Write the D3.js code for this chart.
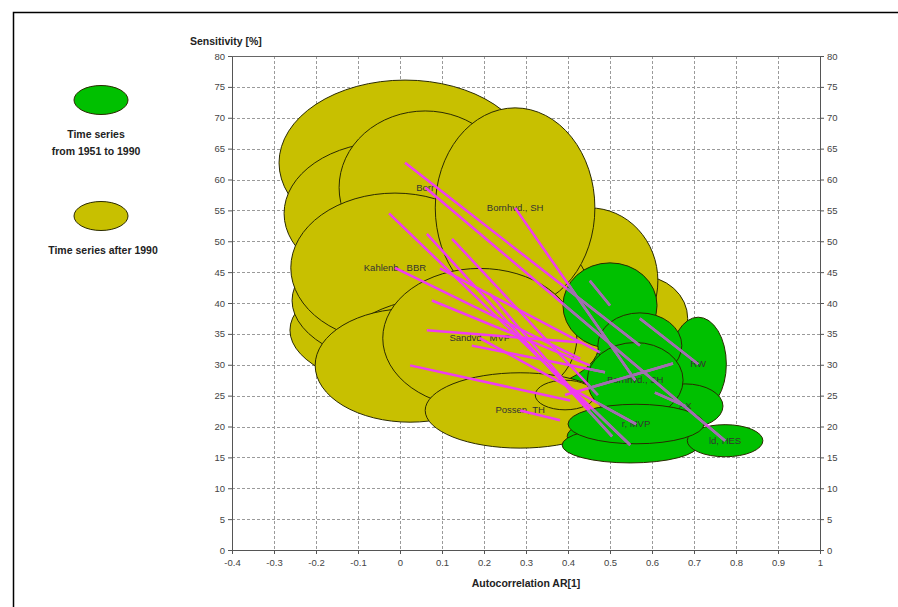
<!DOCTYPE html>
<html>
<head>
<meta charset="utf-8">
<script src="https://cdn.jsdelivr.net/npm/d3@7"></script>
<style>
  body { margin: 0; background: #fff; }
  text { font-family: Arial, "Liberation Sans", sans-serif; }
</style>
</head>
<body>
<div id="chart"></div>
<script>
// values, one entry per station, in drawing order
var labelsAfter  = ['', '', '', '', '', '', '', 'Borr', '', '', '', '', 'Kahlenb., BBR', 'Bornhvd., SH', '', '', 'Sandvd., MVP', 'Possen, TH', ''];
var arAfter      = [0.571, 0.607, 0.452, 0.064, 0.124, 0.012, -0.026, 0.060, 0.064, 0.076, 0.095, 0.214, -0.012, 0.274, 0.171, 0.024, 0.190, 0.286, 0.393];
var sensAfter    = [37.5, 25.5, 43.6, 51.2, 50.4, 62.7, 54.5, 58.7, 35.6, 40.4, 45.6, 41.5, 45.7, 55.4, 33.1, 29.9, 34.3, 22.6, 25.1];
var arAfterW     = [0.114, 0.148, 0.162, 0.286, 0.262, 0.300, 0.250, 0.205, 0.326, 0.333, 0.238, 0.238, 0.248, 0.190, 0.302, 0.226, 0.231, 0.226, 0.071];
var sensAfterH   = [6.9, 3.9, 11.8, 12.1, 11.3, 13.4, 11.6, 12.4, 10.0, 11.3, 10.5, 11.3, 12.1, 16.2, 8.4, 9.2, 11.3, 6.1, 2.4];

var labelsBefore = ['RW', 'AX', '', '', '', '', '', 'ld, HES', '', '', '', '', '', 'Bornhvd., SH', '', '', 'r, MVP', '', ''];
var arBefore     = [0.710, 0.679, 0.500, 0.505, 0.471, 0.571, 0.548, 0.774, 0.433, 0.452, 0.476, 0.452, 0.429, 0.560, 0.488, 0.405, 0.562, 0.381, 0.650];
var sensBefore   = [30.1, 23.3, 39.6, 18.4, 25.1, 33.1, 17.0, 17.7, 33.6, 29.9, 32.0, 22.6, 31.0, 27.5, 28.8, 24.2, 20.4, 21.0, 30.2];
var arBeforeW    = [0.067, 0.090, 0.112, 0.107, 0.083, 0.100, 0.162, 0.090, 0.083, 0.083, 0.083, 0.083, 0.083, 0.114, 0.083, 0.083, 0.162, 0.071, 0.083];
var sensBeforeH  = [7.6, 3.6, 6.9, 2.7, 3.2, 5.3, 2.9, 2.6, 4.0, 4.0, 4.0, 3.2, 4.0, 6.1, 4.0, 3.2, 3.2, 1.9, 4.0];
// green bubbles that sit under the yellow ones in the picture
var beforeHidden = [false, false, false, false, true, false, false, false, true, true, true, true, true, false, true, true, false, true, true];

var xTicks = [-0.4, -0.3, -0.2, -0.1, 0, 0.1, 0.2, 0.3, 0.4, 0.5, 0.6, 0.7, 0.8, 0.9, 1];
var yTicks = [0, 5, 10, 15, 20, 25, 30, 35, 40, 45, 50, 55, 60, 65, 70, 75, 80];
var legendTexts = [['Time series', 'from 1951 to 1990'], ['Time series after 1990']];

var width = 898, height = 607;
var plotL = 232, plotR = 820, plotT = 56, plotB = 550;
var green = '#00c000', yellow = '#c8c000';

var svg = d3.select('#chart').append('svg')
  .attr('width', width)
  .attr('height', height);

svg.append('rect')
  .attr('x', 13.5).attr('y', 12.5)
  .attr('width', 900).attr('height', 620)
  .attr('fill', 'none').attr('stroke', '#000').attr('stroke-width', 1.5);

var x = d3.scaleLinear().domain([-0.4, 1]).range([plotL, plotR]);
var y = d3.scaleLinear().domain([0, 80]).range([plotB, plotT]);

// grid
svg.append('g').selectAll('line').data(xTicks.slice(1, -1))
  .enter().append('line')
    .attr('x1', function(d) { return x(d) + 0.5; })
    .attr('x2', function(d) { return x(d) + 0.5; })
    .attr('y1', plotT).attr('y2', plotB)
    .attr('stroke', '#9a9a9a').attr('stroke-dasharray', '3,2');
svg.append('g').selectAll('line').data(yTicks.slice(1, -1))
  .enter().append('line')
    .attr('y1', function(d) { return Math.round(y(d)) + 0.5; })
    .attr('y2', function(d) { return Math.round(y(d)) + 0.5; })
    .attr('x1', plotL).attr('x2', plotR)
    .attr('stroke', '#9a9a9a').attr('stroke-dasharray', '3,2');

function fmt(d) { return String(+d.toFixed(1)); }

var yLeft = svg.append('g').attr('transform', 'translate(' + plotL + ',0)')
  .call(d3.axisLeft(y).tickValues(yTicks).tickSize(4).tickSizeOuter(0).tickFormat(fmt));
var yRight = svg.append('g').attr('transform', 'translate(' + plotR + ',0)')
  .call(d3.axisRight(y).tickValues(yTicks).tickSize(4).tickSizeOuter(0).tickFormat(fmt));
var xAxis = svg.append('g').attr('transform', 'translate(0,' + plotB + ')')
  .call(d3.axisBottom(x).tickValues(xTicks).tickSize(4).tickSizeOuter(0).tickFormat(fmt));
svg.append('line')
  .attr('x1', plotL).attr('x2', plotR).attr('y1', plotT + 0.5).attr('y2', plotT + 0.5)
  .attr('stroke', '#666');

[yLeft, yRight, xAxis].forEach(function(g) {
  g.selectAll('path, line').attr('stroke', '#555');
  g.selectAll('text').attr('fill', '#444').style('font-size', '9.5px').style('font-family', 'Arial, sans-serif');
});
xAxis.selectAll('text').attr('dy', '0.9em');

// bubbles
function ellipse(sel, ar, sens, w, h) {
  return sel
    .attr('cx', x(ar)).attr('cy', y(sens))
    .attr('rx', x(ar + w) - x(ar))
    .attr('ry', y(sens) - y(sens + h));
}
function drawBubbles(ar, sens, w, h, labels, fill, keep) {
  var g = svg.append('g');
  ar.forEach(function(v, i) {
    if (!keep(i)) return;
    var b = g.append('g');
    ellipse(b.append('ellipse'), v, sens[i], w[i], h[i])
      .attr('fill', fill).attr('stroke', '#2a2a00').attr('stroke-width', 1);
    if (labels[i]) {
      b.append('text')
        .attr('x', x(v)).attr('y', y(sens[i]) + 3)
        .attr('text-anchor', 'middle')
        .attr('fill', '#333').style('font-size', '9.5px')
        .text(labels[i]);
    }
  });
}
drawBubbles(arBefore, sensBefore, arBeforeW, sensBeforeH, labelsBefore, green, function(i) { return beforeHidden[i]; });
drawBubbles(arAfter, sensAfter, arAfterW, sensAfterH, labelsAfter, yellow, function() { return true; });
drawBubbles(arBefore, sensBefore, arBeforeW, sensBeforeH, labelsBefore, green, function(i) { return !beforeHidden[i]; });

// connecting lines, toned down where they run over green
var clip = svg.append('clipPath').attr('id', 'greenClip');
arBefore.forEach(function(v, i) {
  if (beforeHidden[i]) return;
  ellipse(clip.append('ellipse'), v, sensBefore[i], arBeforeW[i], sensBeforeH[i]);
});
function drawLinks(color, clipId) {
  var g = svg.append('g');
  if (clipId) g.attr('clip-path', 'url(#' + clipId + ')');
  g.selectAll('line').data(arAfter)
    .enter().append('line')
      .attr('x1', function(d) { return x(d); })
      .attr('y1', function(d, i) { return y(sensAfter[i]); })
      .attr('x2', function(d, i) { return x(arBefore[i]); })
      .attr('y2', function(d, i) { return y(sensBefore[i]); })
      .attr('stroke', color).attr('stroke-width', 2.5);
}
drawLinks('#f03cf0');
drawLinks('#a070b0', 'greenClip');

// axis titles
svg.append('text').attr('x', 190).attr('y', 45)
  .style('font-weight', 'bold').style('font-size', '10.5px').attr('fill', '#222')
  .text('Sensitivity [%]');
svg.append('text').attr('x', (plotL + plotR) / 2).attr('y', 587)
  .attr('text-anchor', 'middle')
  .style('font-weight', 'bold').style('font-size', '10.5px').attr('fill', '#222')
  .text('Autocorrelation AR[1]');

// legend
var legendY = [100, 216];
[green, yellow].forEach(function(c, i) {
  svg.append('ellipse')
    .attr('cx', 101).attr('cy', legendY[i]).attr('rx', 27).attr('ry', 14.5)
    .attr('fill', c).attr('stroke', '#2a2a00');
  legendTexts[i].forEach(function(t, j) {
    svg.append('text')
      .attr('x', i === 0 ? 96 : 103).attr('y', legendY[i] + 38 + j * 17)
      .attr('text-anchor', 'middle')
      .style('font-weight', 'bold').style('font-size', '10.5px').attr('fill', '#222')
      .text(t);
  });
});
</script>
</body>
</html>
